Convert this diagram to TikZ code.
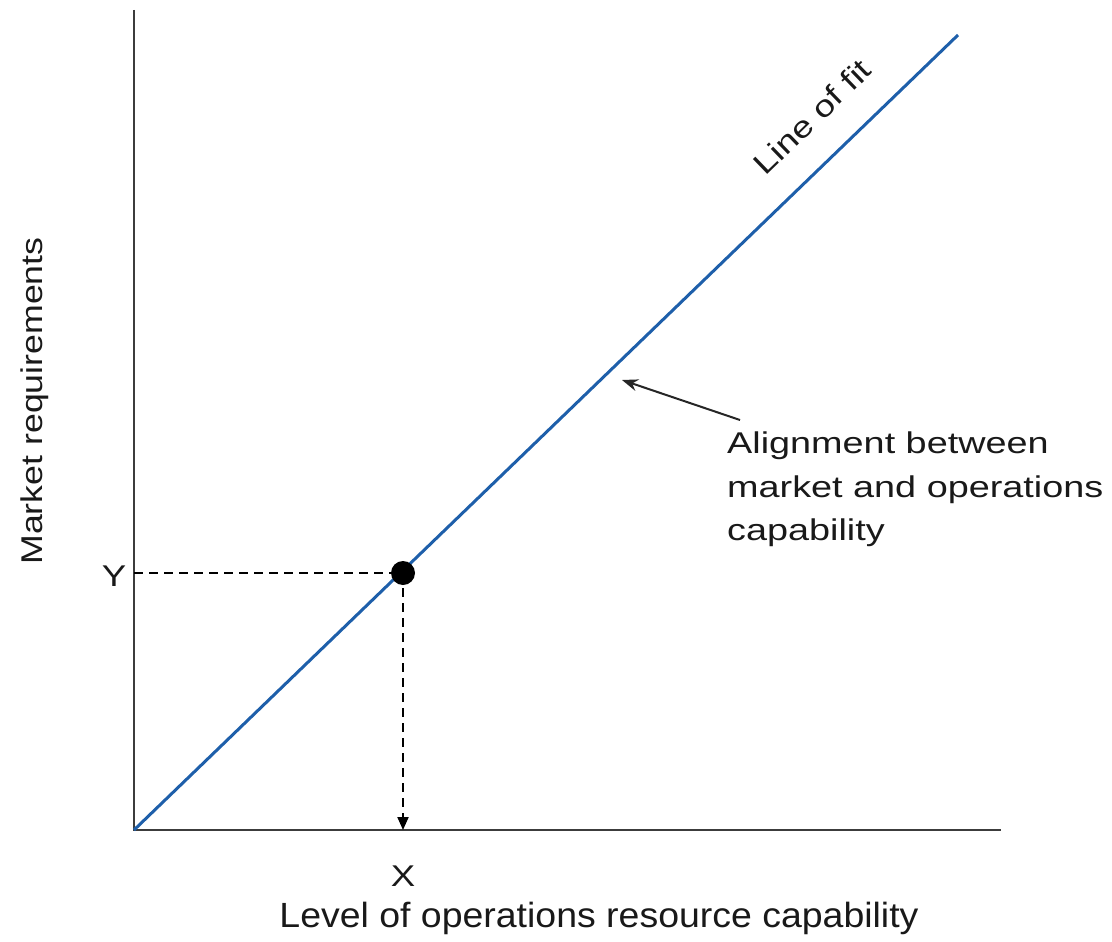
\documentclass[tikz,border=0pt]{standalone}
\usepackage{fontspec}
\setmainfont{Liberation Sans}
\usetikzlibrary{arrows.meta}
\definecolor{fitblue}{RGB}{30,95,170}
\definecolor{axisgray}{RGB}{60,60,60}
\newcommand{\wide}[2][1.22]{\scalebox{#1}[1]{#2}}
\begin{document}
\begin{tikzpicture}[x=1pt,y=-1pt,
  lbl/.style={font=\fontsize{30}{43.5}\selectfont, text=black!90, inner sep=0pt},
  axisline/.style={draw=axisgray, line width=2.6pt},
  fitline/.style={draw=fitblue, line width=3pt},
  guide/.style={draw=black, line width=2pt, dash pattern=on 9pt off 6pt},
  pointer/.style={draw=black!85, line width=2pt, -{Stealth[length=16pt,width=12pt]}}]
\useasboundingbox (0,0) rectangle (1112,942);
\coordinate (O) at (134,830);
\coordinate (ytop) at (134,10);
\coordinate (xend) at (1001,830);
\coordinate (fitend) at (958,35);
\coordinate (ya) at (134,573);
\coordinate (xa) at (403,830);
\coordinate (ptr) at (622,380);
\coordinate (ptrs) at (740,420);
\draw[axisline] (ytop) -- (O) -- (xend);
\draw[fitline] (O) -- (fitend);
\node[circle, fill=black, minimum size=24pt, inner sep=0pt] (P) at (403,573) {};
\draw[guide] (ya) -- (P.center);
\draw[guide, -{Triangle[length=13pt,width=11pt]}] (P.center) -- (xa);
\draw[pointer] (ptrs) -- (ptr);
\node[lbl] (Y) at (114,576) {\wide{Y}};
\node[lbl] (X) at (403,876) {\wide{X}};
\node[lbl, font=\fontsize{35}{40}\selectfont] (xt) at (599,918) {\wide[1.07]{Level of operations resource capability}};
\node[lbl, rotate=90] (yt) at (35,401) {\wide[1.19]{Market requirements}};
\node[lbl, rotate=44] (lf) at (812,117) {\wide[1.23]{Line of fit}};
\node[lbl, anchor=north west, align=left, inner sep=0pt] (al) at (727,432) {\wide[1.26]{Alignment between}\\\wide[1.26]{market and operations}\\\wide[1.26]{capability}};
\end{tikzpicture}
\end{document}
